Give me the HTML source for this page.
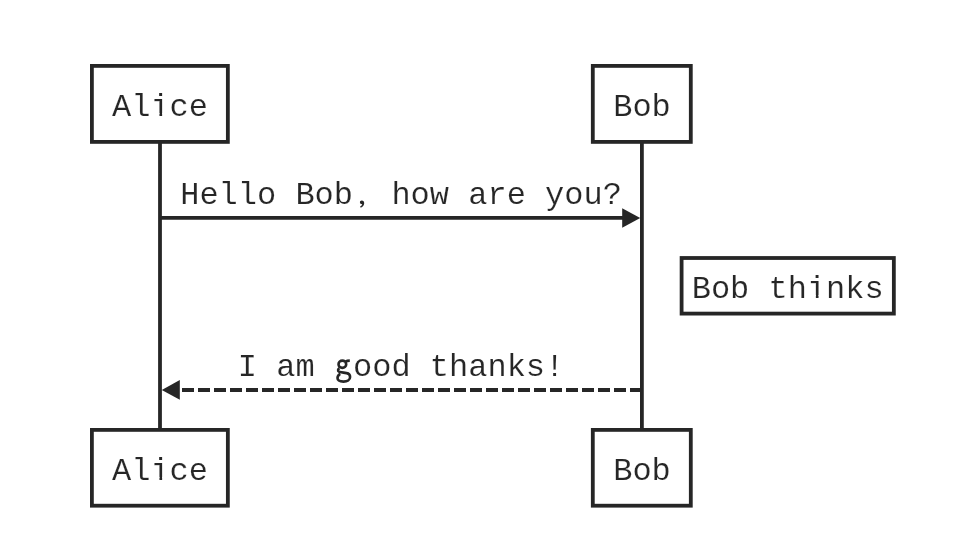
<!DOCTYPE html>
<html><head><meta charset="utf-8">
<style>
html,body{margin:0;padding:0;background:#fff;width:980px;height:556px;overflow:hidden}
svg{display:block;will-change:transform}
text{font-family:"Liberation Mono",monospace;font-size:32px;fill:#262626;stroke:#fff;stroke-width:0.15px}
</style></head><body>
<svg width="980" height="556" viewBox="0 0 980 556">
<g fill="none" stroke="#262626" stroke-width="3.8">
<rect x="91.9" y="65.9" width="135.95" height="76"/>
<rect x="592.8" y="65.9" width="98" height="76"/>
<rect x="91.9" y="429.9" width="135.95" height="75.8"/>
<rect x="592.8" y="429.9" width="98" height="75.8"/>
<line x1="160" y1="141.9" x2="160" y2="429.9"/>
<line x1="641.9" y1="141.9" x2="641.9" y2="429.9"/>
<line x1="160" y1="217.9" x2="625" y2="217.9"/>
<line x1="642" y1="390" x2="176" y2="390" stroke-dasharray="12 4"/>
<rect x="681.6" y="258" width="212.25" height="55.6"/>
</g>
<g fill="#262626">
<polygon points="622.2,208.3 640.2,217.9 622.2,227.7"/>
<polygon points="179.8,380 161.8,390 179.8,399.8"/>
</g>
<text transform="translate(160 116)" text-anchor="middle">Alice</text>
<text transform="translate(642 116)" text-anchor="middle">Bob</text>
<text transform="translate(160 479.8)" text-anchor="middle">Alice</text>
<text transform="translate(642 479.8)" text-anchor="middle">Bob</text>
<text transform="translate(401 204)" text-anchor="middle">Hello Bob, how are you?</text>
<text transform="translate(787.7 297.7)" text-anchor="middle">Bob thinks</text>
<text transform="translate(401 376)" text-anchor="middle">I am good thanks!</text>
<g fill="#fff">
<rect x="150" y="113" width="9.45" height="3"/><rect x="162.12" y="113" width="7" height="3"/>
<rect x="150" y="477" width="9.45" height="3"/><rect x="162.12" y="477" width="7" height="3"/>
<rect x="807" y="295" width="8.86" height="3"/><rect x="818.52" y="295" width="8" height="3"/>
<rect x="355" y="198" width="11" height="13"/>
<rect x="334.5" y="356" width="18" height="29"/>
</g>
<g fill="none" stroke="#262626" stroke-width="2.6">
<ellipse cx="342.35" cy="364.25" rx="3.85" ry="3.6"/>
<path d="M345.6 361.6C346.6 360.9 348 360.6 349.8 360.6"/>
<path d="M339.4 368.2C337.9 369.2 337.6 370.9 338.9 371.7C340 372.3 342.5 372.6 346.6 373.1C349.2 373.5 350.1 375 350.1 377C350.1 379.8 347.4 381.6 343.5 381.6C339.6 381.6 337.5 380.1 337.5 378.1C337.5 376.3 338.4 375 340.2 373.9"/>
</g>
<path fill="#262626" d="M361.7 200.4C363.4 200.4 364.3 201.7 364.2 203.3C364.1 205.3 362.7 206.9 360.7 207.7L360.1 206.6C361.3 206 362 205.2 362.2 204.3C360.9 204.4 359.9 203.5 359.9 202.3C359.9 201.1 360.7 200.4 361.7 200.4Z"/>
</svg>
</body></html>
